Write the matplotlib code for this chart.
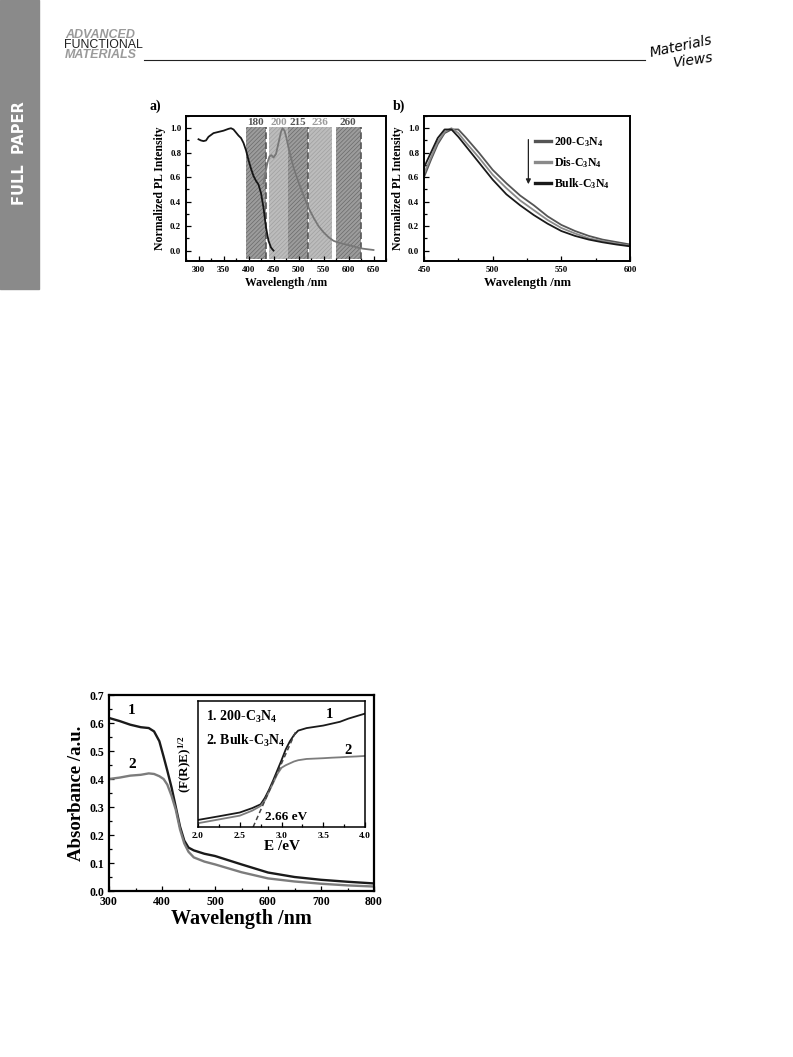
import matplotlib
matplotlib.use("Agg")
import matplotlib.pyplot as plt
from matplotlib.ticker import MultipleLocator
from matplotlib.patches import Rectangle
from matplotlib.lines import Line2D

# ---- data ----
# a) excitation (black) and emission (grey) spectra
exc_wl = [300, 305, 310, 315, 320, 330, 340, 350, 360, 365, 370, 375, 380, 385,
          390, 395, 400, 405, 410, 415, 420, 425, 430, 435, 440, 445, 450]
exc_int = [0.91, 0.90, 0.895, 0.90, 0.93, 0.96, 0.97, 0.98, 0.995, 1.0, 0.99, 0.965,
           0.94, 0.92, 0.88, 0.82, 0.74, 0.67, 0.61, 0.57, 0.54, 0.47, 0.35, 0.19,
           0.08, 0.025, 0.0]
em_wl = [430, 434, 438, 442, 446, 450, 455, 460, 465, 468, 472, 476, 480, 490, 500,
         510, 520, 530, 540, 550, 560, 570, 580, 590, 600, 610, 620, 630, 640, 650]
em_int = [0.55, 0.64, 0.72, 0.77, 0.78, 0.76, 0.79, 0.88, 0.97, 1.0, 0.98, 0.92,
          0.84, 0.68, 0.56, 0.45, 0.35, 0.27, 0.20, 0.15, 0.11, 0.08, 0.065, 0.055,
          0.045, 0.035, 0.022, 0.015, 0.01, 0.005]
band_left = [394, 441, 479, 521, 574]
band_right = [434, 479, 518, 566, 625]
band_labels = ['180', '200', '215', '236', '260']
band_dark = [True, False, True, False, True]

# b) PL spectra
pl_wl = [450, 455, 460, 465, 470, 475, 480, 490, 500, 510, 520, 530, 540, 550,
         560, 570, 580, 590, 600]
pl_200 = [0.60, 0.74, 0.87, 0.96, 0.99, 0.99, 0.93, 0.80, 0.66, 0.55, 0.45, 0.37,
          0.28, 0.21, 0.16, 0.12, 0.09, 0.07, 0.05]
pl_dis = [0.63, 0.76, 0.89, 0.97, 1.0, 0.96, 0.89, 0.76, 0.62, 0.51, 0.41, 0.33,
          0.25, 0.185, 0.14, 0.10, 0.078, 0.058, 0.04]
pl_bulk = [0.68, 0.80, 0.92, 0.99, 0.99, 0.93, 0.86, 0.72, 0.58, 0.46, 0.37, 0.29,
           0.22, 0.16, 0.12, 0.09, 0.068, 0.05, 0.035]

# UV-vis absorbance
abs_wl = [300, 320, 340, 360, 375, 385, 395, 403, 410, 418, 426, 434, 442, 450,
          460, 480, 500, 550, 600, 650, 700, 750, 800]
abs_200 = [0.618, 0.607, 0.594, 0.585, 0.582, 0.570, 0.535, 0.48, 0.43, 0.37, 0.30,
           0.23, 0.18, 0.155, 0.145, 0.133, 0.125, 0.095, 0.066, 0.050, 0.040,
           0.033, 0.027]
abs_bulk = [0.400, 0.405, 0.412, 0.415, 0.420, 0.418, 0.410, 0.40, 0.38, 0.34,
            0.29, 0.22, 0.17, 0.14, 0.12, 0.105, 0.095, 0.067, 0.045, 0.034,
            0.026, 0.020, 0.016]

# inset: Kubelka-Munk plot (relative units)
km_e = [2.0, 2.25, 2.5, 2.65, 2.75, 2.8, 2.85, 2.9, 2.95, 3.0, 3.05, 3.1, 3.15,
        3.2, 3.3, 3.4, 3.5, 3.6, 3.7, 3.8, 3.9, 4.0]
km_200 = [0.056, 0.085, 0.115, 0.15, 0.18, 0.23, 0.295, 0.37, 0.45, 0.53, 0.615,
          0.68, 0.73, 0.765, 0.785, 0.795, 0.805, 0.82, 0.835, 0.86, 0.88, 0.90]
km_bulk = [0.03, 0.06, 0.09, 0.13, 0.167, 0.21, 0.28, 0.35, 0.42, 0.47, 0.49,
           0.505, 0.52, 0.53, 0.54, 0.543, 0.546, 0.55, 0.553, 0.557, 0.56, 0.564]
tangent_e = [2.66, 3.17]
tangent_y = [0.0, 0.756]

plt.rcParams['font.family'] = ['Liberation Serif', 'DejaVu Serif']
plt.rcParams['font.weight'] = 'bold'
plt.rcParams['axes.labelweight'] = 'bold'
plt.rcParams['mathtext.fontset'] = 'custom'
plt.rcParams['mathtext.rm'] = 'Liberation Serif:bold'
plt.rcParams['mathtext.it'] = 'Liberation Serif:italic:bold'
plt.rcParams['mathtext.bf'] = 'Liberation Serif:bold'
plt.rcParams['hatch.linewidth'] = 0.5

W, H = 793, 1057
fig = plt.figure(figsize=(W / 100, H / 100), dpi=100)


def box(l, t, r, b):
    return [l / W, 1 - b / H, (r - l) / W, (b - t) / H]


def style(ax, fs, lw=1.4):
    for s in ax.spines.values():
        s.set_linewidth(lw)
    ax.tick_params(which='both', direction='in', labelsize=fs, width=0.9,
                   top=False, right=False)
    ax.tick_params(which='major', length=3.5)
    ax.tick_params(which='minor', length=2)


# ---- page decoration ----
fig.patches.append(Rectangle((0, 1 - 289 / H), 39 / W, 289 / H,
                             transform=fig.transFigure, color='#8a8a8a', zorder=0))
fig.text(20 / W, 1 - 153 / H, 'FULL  PAPER', rotation=90, color='white',
         family='DejaVu Sans', weight='bold', fontsize=10.5, ha='center', va='center')
fig.text(65 / W, 1 - 35 / H, 'ADVANCED', color='#9a9a9a', family='Liberation Sans',
         style='italic', weight='bold', fontsize=9, va='center')
fig.text(64 / W, 1 - 45 / H, 'FUNCTIONAL', color='#222222', family='Liberation Sans',
         weight='normal', fontsize=8.9, va='center')
fig.text(65 / W, 1 - 55 / H, 'MATERIALS', color='#9a9a9a', family='Liberation Sans',
         style='italic', weight='bold', fontsize=9, va='center')
fig.add_artist(Line2D([144 / W, 645 / W], [1 - 60 / H, 1 - 60 / H], color='#222222', lw=0.8))
fig.text(648 / W, 1 - 46 / H, 'Materials', family='DejaVu Sans', style='italic',
         weight='normal', fontsize=10, rotation=12, va='center')
fig.text(672 / W, 1 - 60 / H, 'Views', family='DejaVu Sans', style='italic',
         weight='normal', fontsize=10, rotation=8, va='center')

# ---- a) ----
ax = fig.add_axes(box(186, 116, 386, 261))
for l, r, lab, dark in zip(band_left, band_right, band_labels, band_dark):
    fc = '#9c9c9c' if dark else '#bcbcbc'
    hc = '#6a6a6a' if dark else '#a0a0a0'
    ax.bar(l, 1.075, width=r - l, bottom=-0.065, align='edge', facecolor=fc,
           edgecolor=hc, hatch='////////', linewidth=0, zorder=1)
    ax.text((l + r) / 2, 1.012, lab, ha='center', va='bottom', fontsize=8,
            color='#555555' if dark else '#9a9a9a')
    if dark:
        ax.vlines(r, -0.065, 1.01, colors='#555555', linestyles=(0, (4, 2)), lw=1.2, zorder=2)
ax.plot(exc_wl, exc_int, color='#151515', lw=1.3, zorder=3)
ax.plot(em_wl, em_int, color='#777777', lw=1.3, zorder=3)
ax.set_xlim(275, 675)
ax.set_ylim(-0.085, 1.1)
ax.xaxis.set_minor_locator(MultipleLocator(25))
ax.yaxis.set_minor_locator(MultipleLocator(0.1))
ax.set_xticks(range(300, 651, 50))
ax.set_yticks([0.0, 0.2, 0.4, 0.6, 0.8, 1.0])
ax.set_yticklabels(['0.0', '0.2', '0.4', '0.6', '0.8', '1.0'])
style(ax, 6.3)
ax.set_xlabel('Wavelength /nm', fontsize=8.5, labelpad=2)
ax.set_ylabel('Normalized PL Intensity', fontsize=8.5, labelpad=3)
fig.text(150 / W, 1 - 106 / H, 'a)', fontsize=10, va='center')

# ---- b) ----
bx = fig.add_axes(box(424, 116, 630, 261))
bx.plot(pl_wl, pl_200, color='#555555', lw=1.3, label='200-C$_3$N$_4$')
bx.plot(pl_wl, pl_dis, color='#8a8a8a', lw=1.3, label='Dis-C$_3$N$_4$')
bx.plot(pl_wl, pl_bulk, color='#1a1a1a', lw=1.3, label='Bulk-C$_3$N$_4$')
bx.set_xlim(450, 600)
bx.set_ylim(-0.085, 1.1)
bx.xaxis.set_major_locator(MultipleLocator(50))
bx.xaxis.set_minor_locator(MultipleLocator(25))
bx.set_yticks([0.0, 0.2, 0.4, 0.6, 0.8, 1.0])
bx.set_yticklabels(['0.0', '0.2', '0.4', '0.6', '0.8', '1.0'])
bx.yaxis.set_minor_locator(MultipleLocator(0.1))
style(bx, 6.3)
bx.set_xlabel('Wavelength /nm', fontsize=9, labelpad=2)
bx.set_ylabel('Normalized PL Intensity', fontsize=8.5, labelpad=3)
leg = bx.legend(loc='upper left', bbox_to_anchor=(0.54, 0.87), frameon=False,
                fontsize=8.5, handlelength=1.3, labelspacing=0.55, handletextpad=0.3,
                borderaxespad=0, borderpad=0)
for h in leg.legend_handles:
    h.set_linewidth(2.4)
bx.annotate('', xy=(526, 0.52), xytext=(526, 0.93),
            arrowprops=dict(arrowstyle='-|>', color='#222222', lw=0.9, mutation_scale=7))
fig.text(393 / W, 1 - 106 / H, 'b)', fontsize=10, va='center')

# ---- absorbance ----
cx = fig.add_axes(box(109, 695, 374, 891))
cx.plot(abs_wl, abs_200, color='#1a1a1a', lw=1.7)
cx.plot(abs_wl, abs_bulk, color='#7c7c7c', lw=1.7)
cx.text(343, 0.645, '1', fontsize=11, ha='center', va='center')
cx.text(343, 0.45, '2', fontsize=11, ha='center', va='center')
cx.set_xlim(300, 800)
cx.set_ylim(0, 0.7)
cx.xaxis.set_major_locator(MultipleLocator(100))
cx.xaxis.set_minor_locator(MultipleLocator(50))
cx.yaxis.set_minor_locator(MultipleLocator(0.05))
cx.set_yticks([0.0, 0.1, 0.2, 0.3, 0.4, 0.5, 0.6, 0.7])
cx.set_yticklabels(['0.0', '0.1', '0.2', '0.3', '0.4', '0.5', '0.6', '0.7'])
style(cx, 8.5, lw=1.6)
cx.set_xlabel('Wavelength /nm', fontsize=14.5, labelpad=1)
cx.set_ylabel('Absorbance /a.u.', fontsize=13.5, labelpad=3)

# ---- inset ----
ix = fig.add_axes(box(198, 701, 365, 827))
ix.plot(km_e, km_200, color='#1a1a1a', lw=1.3)
ix.plot(km_e, km_bulk, color='#7c7c7c', lw=1.3)
ix.plot(tangent_e, tangent_y, color='#444444', lw=1.1, ls=(0, (3, 2)))
ix.text(2.8, 0.08, '2.66 eV', fontsize=9.5, va='center')
ix.text(3.58, 0.89, '1', fontsize=10.5, ha='center', va='center')
ix.text(3.8, 0.61, '2', fontsize=10.5, ha='center', va='center')
ix.text(2.09, 0.87, '1. 200-C$_3$N$_4$', fontsize=10, va='center')
ix.text(2.09, 0.68, '2. Bulk-C$_3$N$_4$', fontsize=10, va='center')
ix.set_xlim(2.0, 4.0)
ix.set_ylim(0, 1)
ix.xaxis.set_minor_locator(MultipleLocator(0.25))
ix.set_xticks([2.0, 2.5, 3.0, 3.5, 4.0])
ix.set_xticklabels(['2.0', '2.5', '3.0', '3.5', '4.0'])
ix.set_yticks([])
style(ix, 6.8, lw=1.1)
ix.set_xlabel('E /eV', fontsize=11, labelpad=0)
ix.set_ylabel('(F(R)E)$^{1/2}$', fontsize=9.5, labelpad=3)

fig.savefig('out.png', dpi=100, facecolor='white')
